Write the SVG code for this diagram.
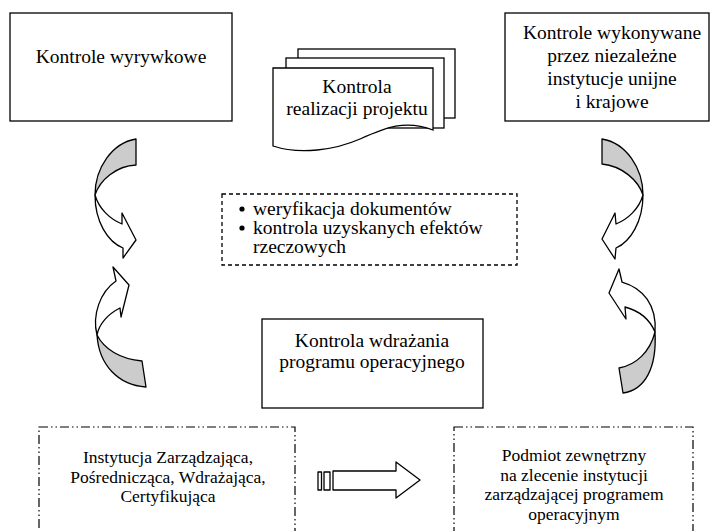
<svg xmlns="http://www.w3.org/2000/svg" width="710" height="531" viewBox="0 0 710 531">
<style>
.box{fill:#fff;stroke:#000;stroke-width:1.3}
.dash{fill:none;stroke:#000;stroke-width:1.3;stroke-dasharray:4,3}
.dd{fill:none;stroke:#000;stroke-width:1.2;stroke-dasharray:9,3,1.5,3,1.5,3}
text{font-family:'Liberation Serif','Times New Roman',serif;font-size:19.5px;fill:#000}
.s{font-size:17.5px}
.c{text-anchor:middle}
.gray{fill:#cccccc;stroke:#000;stroke-width:1.3;stroke-linejoin:round}
.wh{fill:#fff;stroke:#000;stroke-width:1.3;stroke-linejoin:round}
</style>
<rect width="710" height="531" fill="#fff"/>
<g id="kontrole-wyrywkowe">
<rect class="box" x="10" y="13" width="222" height="108"/>
<text class="c" x="121" y="63">Kontrole wyrywkowe</text>
</g>
<g id="kontrole-niezalezne">
<rect class="box" x="505" y="13" width="204" height="108"/>
<text class="c" x="612" y="39">Kontrole wykonywane</text>
<text class="c" x="612" y="62">przez niezależne</text>
<text class="c" x="612" y="85">instytucje unijne</text>
<text class="c" x="612" y="108">i krajowe</text>
</g>
<g id="kontrola-realizacji">
<rect class="box" x="298" y="49" width="157" height="69"/>
<rect class="box" x="286" y="58" width="158" height="70"/>
<path class="box" d="M273,68 H433 V130 C405,119 385,128 360,139 C335,150 300,155 273,146 Z"/>
<text class="c" x="357" y="93">Kontrola</text>
<text class="c" x="357" y="115">realizacji projektu</text>
</g>
<g id="zakres">
<rect class="dash" x="222" y="194" width="295" height="71"/>
<circle cx="242" cy="209" r="2.6" fill="#000"/>
<circle cx="242" cy="228" r="2.6" fill="#000"/>
<text x="253" y="215">weryfikacja dokumentów</text>
<text x="253" y="234">kontrola uzyskanych efektów</text>
<text x="253" y="253">rzeczowych</text>
</g>
<g id="kontrola-wdrazania">
<rect class="box" x="262" y="319" width="221" height="89"/>
<text class="c" x="372" y="347">Kontrola wdrażania</text>
<text class="c" x="372" y="368">programu operacyjnego</text>
</g>
<g id="instytucja">
<rect class="dd" x="39" y="427" width="256" height="120"/>
<text class="c s" x="168" y="463">Instytucja Zarządzająca,</text>
<text class="c s" x="168" y="482.5">Pośrednicząca, Wdrażająca,</text>
<text class="c s" x="168" y="502">Certyfikująca</text>
</g>
<g id="podmiot">
<rect class="dd" x="454" y="427" width="239" height="120"/>
<text class="c s" x="574" y="461">Podmiot zewnętrzny</text>
<text class="c s" x="574" y="480.5">na zlecenie  instytucji</text>
<text class="c s" x="574" y="500">zarządzającej programem</text>
<text class="c s" x="574" y="519.5">operacyjnym</text>
</g>
<g id="connectors">
<path class="gray" d="M136,139 C112,143 95,168 95,195 C100,180 116,166 136,165 Z"/>
<path class="wh" d="M95,195 C95,222 108,242 123,248 L123,258 L136,240 L122,213 L122,224 C110,219 99,209 95,195 Z"/>
<path class="gray" d="M142,361 L146,387 C118,385 99,365 97,335 C104,349 120,359 142,361 Z"/>
<path class="wh" d="M97,335 C92,315 100,292 116,281 L113,267 L129,285 L121,317 L120,308 C108,314 99,324 97,335 Z"/>
<path class="gray" d="M602,139 C626,143 643,168 643,195 C638,180 622,166 602,164 Z"/>
<path class="wh" d="M643,195 C643,222 630,242 616,248 L615,259 L602,239 L615,213 L616,224 C628,219 639,209 643,195 Z"/>
<path class="gray" d="M619,368 L623,393 C645,390 657,368 655,332 C650,352 636,365 619,368 Z"/>
<path class="wh" d="M655,332 C657,305 643,288 622,282 L619,269 L609,293 L626,319 L625,307 C640,311 650,320 655,332 Z"/>
<rect class="wh" x="318" y="472" width="3.5" height="18"/>
<rect class="wh" x="324" y="472" width="6" height="18"/>
<path class="wh" d="M333,471 H396 V462 L420,480 L396,498 V490 H333 Z"/>
</g>
</svg>
